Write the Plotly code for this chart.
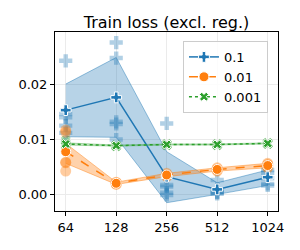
import plotly.graph_objects as go

categories = ["64", "128", "256", "512", "1024"]
xi = [0, 1, 2, 3, 4]

series_names = ["0.1", "0.01", "0.001"]
colors = ["#1f77b4", "#ff7f0e", "#2ca02c"]

mean_01 = [0.0153, 0.0176, 0.0033, 0.0010, 0.0032]
lo_01 = [0.0105, 0.0104, -0.0014, 0.0001, 0.0017]
hi_01 = [0.0200, 0.0248, 0.0078, 0.0022, 0.0045]
pts_01 = [
    [0.0242, 0.0146, 0.0140, 0.0125, 0.0112],
    [0.0275, 0.0247, 0.0132, 0.0128, 0.0100],
    [0.0129, 0.0018, 0.0015, 0.0004, 0.0000],
    [0.0027, 0.0010, 0.0005, 0.0004, 0.0002],
    [0.0045, 0.0040, 0.0030, 0.0020, 0.0017],
]

mean_001 = [0.0078, 0.0021, 0.0036, 0.0046, 0.0053]
lo_001 = [0.0057, 0.0019, 0.0033, 0.0043, 0.0049]
hi_001 = [0.0093, 0.0023, 0.0039, 0.0049, 0.0057]
pts_001 = [
    [0.0117, 0.0113, 0.0059, 0.0058, 0.0043],
    [0.0023, 0.0022, 0.0021, 0.0020, 0.0019],
    [0.0039, 0.0037, 0.0036, 0.0035, 0.0033],
    [0.0049, 0.0047, 0.0046, 0.0045, 0.0043],
    [0.0057, 0.0055, 0.0053, 0.0051, 0.0049],
]

mean_0001 = [0.0092, 0.0089, 0.0091, 0.0091, 0.0093]
lo_0001 = [0.0090, 0.0088, 0.0090, 0.0090, 0.0092]
hi_0001 = [0.0094, 0.0090, 0.0092, 0.0092, 0.0094]
pts_0001 = [
    [0.0098, 0.0093, 0.0092, 0.0090, 0.0088],
    [0.0090, 0.0089, 0.0089, 0.0088, 0.0088],
    [0.0092, 0.0091, 0.0091, 0.0090, 0.0090],
    [0.0092, 0.0091, 0.0091, 0.0090, 0.0090],
    [0.0094, 0.0093, 0.0093, 0.0092, 0.0092],
]

means = [mean_01, mean_001, mean_0001]
los = [lo_01, lo_001, lo_0001]
his = [hi_01, hi_001, hi_0001]
pts = [pts_01, pts_001, pts_0001]
band_rgba = ["rgba(31,119,180,0.32)", "rgba(255,127,14,0.35)", "rgba(44,160,44,0.25)"]
edge_rgba = ["rgba(31,119,180,0.45)", "rgba(255,127,14,0.45)", "rgba(44,160,44,0.35)"]
pt_rgba = ["rgba(31,119,180,0.35)", "rgba(255,127,14,0.4)", "rgba(44,160,44,0.35)"]
symbols = ["cross", "circle", "x"]
dashes = ["solid", "dash", "dot"]
msize = [9, 10, 8]
psize = [11, 11, 9]

fig = go.Figure()

for k in range(3):
    fig.add_trace(go.Scatter(
        x=xi + xi[::-1], y=his[k] + los[k][::-1], fill="toself",
        fillcolor=band_rgba[k], line=dict(color=edge_rgba[k], width=1),
        mode="lines", showlegend=False, hoverinfo="skip"))

for k in range(3):
    px, py = [], []
    for i, vals in enumerate(pts[k]):
        for v in vals:
            px.append(xi[i])
            py.append(v)
    fig.add_trace(go.Scatter(
        x=px, y=py, mode="markers", showlegend=False,
        marker=dict(symbol=symbols[k], size=psize[k], color=pt_rgba[k],
                    line=dict(width=0))))

for k in range(3):
    fig.add_trace(go.Scatter(
        x=xi, y=means[k], mode="lines+markers", name=series_names[k],
        line=dict(color=colors[k], width=1.5, dash=dashes[k]),
        marker=dict(symbol=symbols[k], size=msize[k], color=colors[k],
                    line=dict(color="white", width=1))))

fig.update_layout(
    width=300, height=250,
    margin=dict(l=55, r=22, t=32, b=39, autoexpand=False),
    paper_bgcolor="white", plot_bgcolor="white",
    font=dict(family="DejaVu Sans", size=13, color="black"),
    title=dict(text="Train loss (excl. reg.)", x=0.5, xref="paper",
               y=1 - 22 / 250, yref="container", yanchor="middle",
               xanchor="center", font=dict(size=16)),
    showlegend=True,
    legend=dict(x=0.955, y=0.95, xanchor="right", yanchor="top",
                bgcolor="rgba(255,255,255,0.85)", bordercolor="#cccccc",
                borderwidth=1, font=dict(size=13), tracegroupgap=0,
                itemwidth=30),
)
fig.update_xaxes(
    range=[-0.212, 4.204], tickvals=xi, ticktext=categories,
    showgrid=True, gridcolor="#ebebeb", gridwidth=1, automargin=False,
    showline=True, linecolor="black", linewidth=1, mirror=True,
    ticks="outside", ticklen=4, tickcolor="black", zeroline=False)
fig.update_yaxes(
    range=[-0.0029, 0.0294], tickvals=[0, 0.01, 0.02],
    ticktext=["0.00", "0.01", "0.02"], automargin=False,
    showgrid=True, gridcolor="#ebebeb", gridwidth=1,
    showline=True, linecolor="black", linewidth=1, mirror=True,
    ticks="outside", ticklen=4, tickcolor="black", zeroline=False)

fig.write_html("out.html",
               config={"displayModeBar": False},
               post_script="document.body.style.margin='0';"
                           "document.body.style.overflow='hidden';")
